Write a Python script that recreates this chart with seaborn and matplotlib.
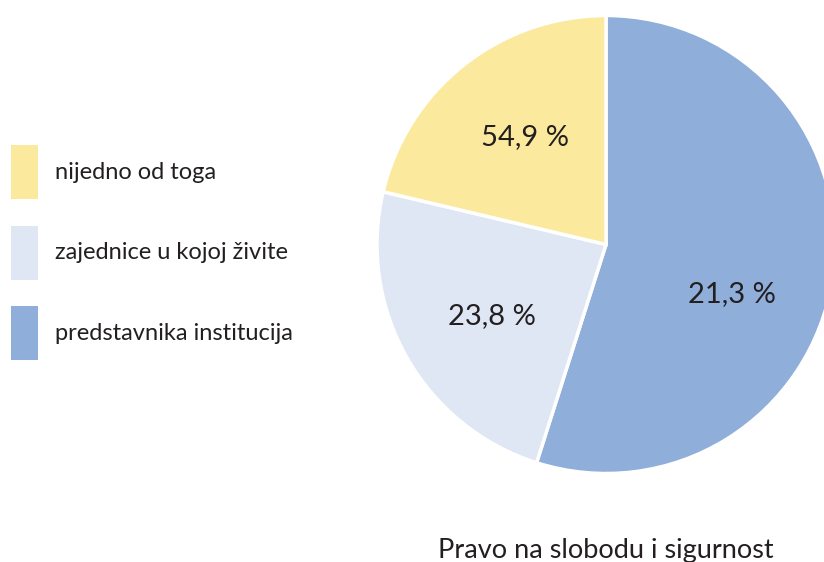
import matplotlib
matplotlib.use("Agg")
import numpy as np
import matplotlib.pyplot as plt
import seaborn as sns
from matplotlib.patches import Patch

# slice sizes (clockwise from 12 o'clock) and the labels printed on them
categories = ["predstavnika institucija", "zajednice u kojoj živite", "nijedno od toga"]
shares = [54.9, 23.8, 21.3]
pct_labels = ["21,3 %", "23,8 %", "54,9 %"]
colors = ["#8FAED9", "#E0E7F4", "#FBEA9E"]
title = "Pravo na slobodu i sigurnost"

sns.set_theme(style="white")
plt.rcParams['font.family'] = ['Lato', 'DejaVu Sans']

fig = plt.figure(figsize=(8.24, 5.62), dpi=100)
ax = fig.add_axes([0, 0, 1, 1])

# pie placed in pixel-like coordinates so it runs off the right edge
center = (606, 317.5)
radius = 229
wedges, _ = ax.pie(shares, colors=colors, startangle=90, counterclock=False,
                   center=center, radius=radius, frame=True,
                   wedgeprops=dict(edgecolor='white', linewidth=2.5))
ax.set_xlim(0, 824)
ax.set_ylim(0, 562)
ax.set_aspect('equal')
ax.axis('off')

# percentage labels, nudged a bit off the wedge middle like the original
angle_shift = [-12.6, 2.6, -1.3]
for w, txt, shift in zip(wedges, pct_labels, angle_shift):
    mid = np.deg2rad((w.theta1 + w.theta2) / 2 + shift)
    x = center[0] + 0.59 * radius * np.cos(mid)
    y = center[1] + 0.59 * radius * np.sin(mid)
    ax.text(x, y, txt, ha='center', va='center', fontsize=21, color='#231f20')

# legend on the left, yellow on top
handles = [Patch(facecolor=c, edgecolor='none') for c in colors[::-1]]
ax.legend(handles, categories[::-1], loc='upper left',
          bbox_to_anchor=(11, 562 - 145), bbox_transform=ax.transData,
          frameon=False, fontsize=17, labelcolor='#231f20',
          handlelength=1.15, handleheight=3.15, handletextpad=0.72,
          labelspacing=1.12, borderpad=0, borderaxespad=0)

fig.text(606 / 824, 4 / 562, title, ha='center', va='baseline',
         fontsize=19.5, color='#231f20')

fig.savefig('out.png', dpi=100)
